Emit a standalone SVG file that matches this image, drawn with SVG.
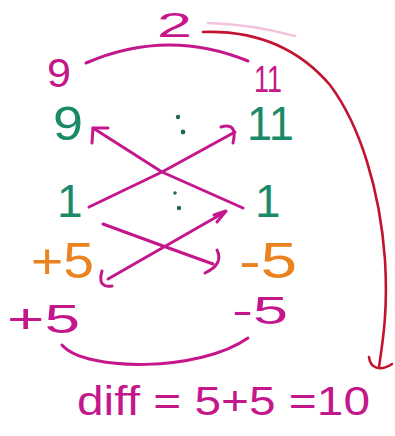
<svg xmlns="http://www.w3.org/2000/svg" width="395" height="436" viewBox="0 0 395 436">
<style>
text{font-family:"Liberation Sans","DejaVu Sans",sans-serif}
.m{fill:#c4178c}
.g{fill:#1b8a68}
.o{fill:#e9821f}
.ln{fill:none;stroke:#c4178c;stroke-width:3;stroke-linecap:round;stroke-linejoin:round}
.red{fill:none;stroke:#c2142e;stroke-width:2.6;stroke-linecap:round;stroke-linejoin:round}
.dot{fill:#1d6b50}
</style>
<rect width="395" height="436" fill="#ffffff"/>
<g id="connectors">
<path d="M208,23 Q250,24 295,36" fill="none" stroke="#f3c3de" stroke-width="2.5" stroke-linecap="round"/>
<path class="ln" d="M86,63 Q167,28 248,61"/>
<path class="red" d="M203,32 C260,30 300,50 330,85 C360,125 380,190 385,260 C388,310 383,340 379,367"/>
<path class="red" d="M369,357 C370,368 380,372 392,364"/>
<path class="ln" d="M93,128 L162,172 L243,208"/>
<path class="ln" d="M108,128 L93,128 L92,143"/>
<path class="ln" d="M89,207 L162,172 L235,132"/>
<path class="ln" d="M221,127 Q238,122 233,143"/>
<path class="ln" d="M103,224 Q160,245 213,264"/>
<path class="ln" d="M217,250 Q224,264 205,273"/>
<path class="ln" d="M108,279 L225,212"/>
<path class="ln" d="M214,215 L226,211 L217,222"/>
<path class="ln" d="M102,271 Q97,288 112,286"/>
<path class="ln" d="M62,345 C85,372 200,372 248,338"/>
</g>
<g id="two"><text class="m" x="157" y="37" font-size="35" textLength="35" lengthAdjust="spacingAndGlyphs">2</text></g>
<g id="nine-top"><text class="m" x="47" y="87" font-size="40" textLength="24" lengthAdjust="spacingAndGlyphs">9</text></g>
<g id="eleven-top"><text class="m" x="254" y="92" font-size="37" textLength="28" lengthAdjust="spacingAndGlyphs">11</text></g>
<g id="nine-green"><text class="g" x="53" y="140" font-size="48" textLength="30" lengthAdjust="spacingAndGlyphs">9</text></g>
<g id="eleven-green"><text class="g" x="247" y="140" font-size="48" textLength="47" lengthAdjust="spacingAndGlyphs">11</text></g>
<g id="ratio-top"><circle class="dot" cx="178" cy="117" r="2.2"/><circle class="dot" cx="183" cy="132" r="2.4"/></g>
<g id="ratio-bottom"><circle class="dot" cx="175" cy="193" r="1.8"/><circle class="dot" cx="179" cy="208" r="2.2"/></g>
<g id="one-left"><text class="g" x="57" y="217" font-size="46">1</text></g>
<g id="one-right"><text class="g" x="255" y="217" font-size="46">1</text></g>
<g id="plus5-orange"><text class="o" x="31" y="278" font-size="50" textLength="63" lengthAdjust="spacingAndGlyphs">+5</text></g>
<g id="minus5-orange"><text class="o" x="239" y="278" font-size="50" textLength="58" lengthAdjust="spacingAndGlyphs">-5</text></g>
<g id="plus5"><text class="m" x="7" y="333" font-size="40" textLength="73" lengthAdjust="spacingAndGlyphs">+5</text></g>
<g id="minus5"><text class="m" x="232" y="324" font-size="38" textLength="56" lengthAdjust="spacingAndGlyphs">-5</text></g>
<g id="diff"><text class="m" x="77" y="415" font-size="40" textLength="293" lengthAdjust="spacingAndGlyphs">diff = 5+5 =10</text></g>
</svg>
